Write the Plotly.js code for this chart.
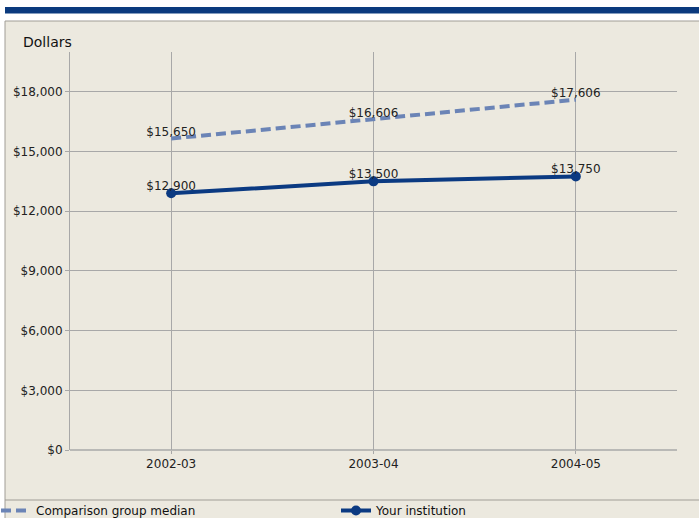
<!DOCTYPE html>
<html><head><meta charset="utf-8">
<script src="https://cdn.plot.ly/plotly-3.0.1.min.js"></script>
<style>html,body{margin:0;padding:0;background:#fff;}#c{width:699px;height:518px;}</style>
</head><body><div id="c"></div>
<script>
var years = ["2002-03", "2003-04", "2004-05"];
var comparisonMedian = [15650, 16606, 17606];
var yourInstitution = [12900, 13500, 13750];
var yTickVals = [0, 3000, 6000, 9000, 12000, 15000, 18000];
var yTickText = ["$0", "$3,000", "$6,000", "$9,000", "$12,000", "$15,000", "$18,000"];

function money(v){ return "$" + v.toLocaleString("en-US"); }

var L = 70, R = 677, T = 52, B = 450;
function px(x){ return (x - L) / (R - L); }
function py(y){ return (B - y) / (B - T); }

var font = "DejaVu Sans, Verdana, sans-serif";
var labelFont = {family: font, size: 12, color: "#222"};
var traces = [
  {x: years, y: comparisonMedian, name: "Comparison group median", mode: "lines",
   line: {color: "#6b84b6", width: 4, dash: "10px,5px"}, cliponaxis: false},
  {x: years, y: yourInstitution, name: "Your institution", mode: "lines+markers",
   line: {color: "#0b3a82", width: 4}, marker: {color: "#0b3a82", size: 10}, cliponaxis: false},
  {x: years, y: comparisonMedian, mode: "text", text: comparisonMedian.map(money),
   textposition: "top center", textfont: labelFont, showlegend: false, cliponaxis: false},
  {x: years, y: yourInstitution, mode: "text", text: yourInstitution.map(money),
   textposition: "top center", textfont: labelFont, showlegend: false, cliponaxis: false}
];

var layout = {
  width: 699, height: 518,
  margin: {l: L, r: 699 - R, t: T, b: 518 - B, autoexpand: false},
  paper_bgcolor: "#ffffff", plot_bgcolor: "rgba(0,0,0,0)",
  font: {family: font, size: 12, color: "#222"},
  showlegend: true,
  legend: {orientation: "h", x: px(-4), xanchor: "left", y: py(496), yanchor: "top",
           bgcolor: "rgba(0,0,0,0)", borderwidth: 0, font: {family: font, size: 12, color: "#111"},
           entrywidth: 295, entrywidthmode: "pixels", traceorder: "normal"},
  xaxis: {type: "category", range: [-0.5, 2.5], showgrid: true, gridcolor: "#a8a8a8", gridwidth: 1,
          ticks: "outside", ticklen: 3, tickcolor: "#a8a8a8", showline: false, zeroline: false,
          tickfont: {family: font, size: 12, color: "#222"}, fixedrange: true},
  yaxis: {range: [0, 20000], tickvals: yTickVals, ticktext: yTickText, showgrid: true,
          gridcolor: "#a8a8a8", gridwidth: 1, ticks: "outside", ticklen: 4, tickcolor: "#a8a8a8",
          showline: true, linecolor: "#a8a8a8", linewidth: 1, zeroline: false,
          tickfont: {family: font, size: 12, color: "#222"}, fixedrange: true},
  shapes: [
    {type: "rect", xref: "paper", yref: "paper", x0: px(5), x1: px(700), y0: py(21), y1: py(519),
     fillcolor: "#ece9df", line: {color: "#a09d96", width: 1}, layer: "below"},
    {type: "line", xref: "paper", yref: "paper", x0: px(5), x1: px(700), y0: py(500), y1: py(500),
     line: {color: "#a09d96", width: 1}, layer: "below"},
    {type: "rect", xref: "paper", yref: "paper", x0: px(5), x1: px(700), y0: py(7), y1: py(13.5),
     fillcolor: "#0b3a7e", line: {width: 0}, layer: "below"},
    {type: "line", xref: "paper", yref: "paper", x0: 0, x1: 1, y0: 0, y1: 0,
     line: {color: "#a8a8a8", width: 1.5}, layer: "above"}
  ],
  annotations: [
    {text: "Dollars", xref: "paper", yref: "paper", x: px(21), y: py(42), xanchor: "left", yanchor: "middle",
     showarrow: false, font: {family: font, size: 14, color: "#111"}}
  ]
};
Plotly.newPlot("c", traces, layout, {displayModeBar: false, staticPlot: true});
</script></body></html>
